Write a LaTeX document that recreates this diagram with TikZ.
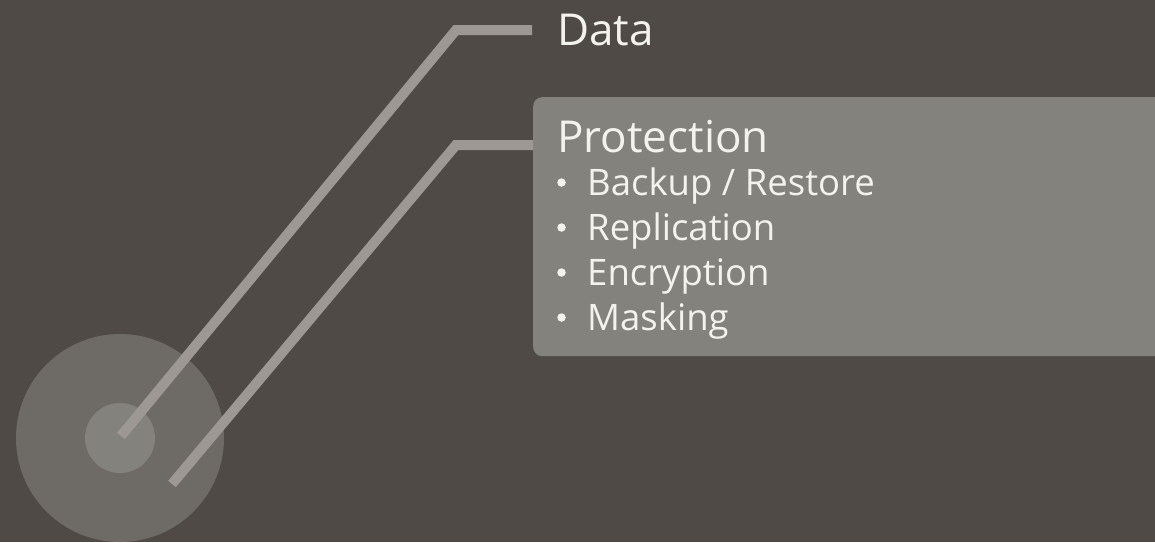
\documentclass[tikz,border=0pt]{standalone}
\usepackage{fontspec}
\setmainfont{Open Sans}
\definecolor{bgc}{HTML}{4F4A45}
\definecolor{ringc}{HTML}{6E6A65}
\definecolor{corec}{HTML}{83827D}
\definecolor{boxc}{HTML}{83827D}
\definecolor{linec}{HTML}{9D9893}
\definecolor{txtc}{HTML}{F4F2EC}
\begin{document}
\begin{tikzpicture}[x=1pt,y=-1pt,
  leader/.style={draw=linec,line width=10pt,line cap=butt,line join=miter},
  headtext/.style={anchor=base west,inner sep=0,text=txtc,font=\fontsize{44}{52}\selectfont},
  itemtext/.style={anchor=base west,inner sep=0,text=txtc,font=\fontsize{36.5}{44}\selectfont},
  bulletdot/.style={circle,fill=txtc,minimum size=8.5pt,inner sep=0}]
\useasboundingbox (0,0) rectangle (1155,542);
\fill[bgc] (0,0) rectangle (1155,542);
% target
\node (ring) [circle,fill=ringc,minimum size=208pt,inner sep=0] at (120,438) {};
\node (core) [circle,fill=corec,minimum size=70pt,inner sep=0] at (120,438) {};
% box
\node (prot) [fill=boxc,rounded corners=9pt,minimum width=660pt,minimum height=259pt,anchor=north west,inner sep=0] at (533,97) {};
% texts
\node (data) [headtext] at (557,45) {Data};
\node (ptitle) [headtext] at (557,152) {Protection};
\node (b1) [bulletdot] at (561.5,182.5) {};
\node (i1) [itemtext] at (587,195) {Backup / Restore};
\node (b2) [bulletdot] at (561.5,227.5) {};
\node (i2) [itemtext] at (587,240) {Replication};
\node (b3) [bulletdot] at (561.5,272.5) {};
\node (i3) [itemtext] at (587,285) {Encryption};
\node (b4) [bulletdot] at (561.5,317.5) {};
\node (i4) [itemtext] at (587,330) {Masking};
% leader lines
\coordinate (s1) at (121,436);
\coordinate (k1) at (456,30);
\coordinate (s2) at (172,484);
\coordinate (k2) at (456,145);
\coordinate (e1) at (532,30);
\draw[leader] (s1) -- (k1) -- (e1);
\draw[leader] (s2) -- (k2) -- (prot.west |- k2);
\end{tikzpicture}
\end{document}
